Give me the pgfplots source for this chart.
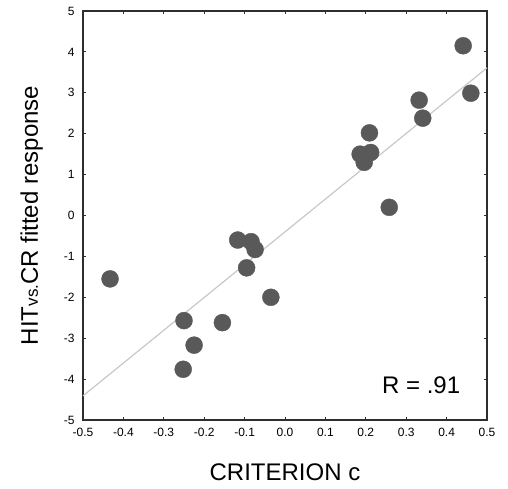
\documentclass[border=0pt]{standalone}
\usepackage{fontspec}
\setmainfont{Liberation Sans}
\usepackage{pgfplots}
\pgfplotsset{compat=1.18}

\definecolor{dotgray}{HTML}{595959}
\definecolor{fitgray}{HTML}{C8C8C8}
\definecolor{framegray}{HTML}{2E2E2E}

\begin{document}
\begin{tikzpicture}
  \useasboundingbox (-83bp,-69bp) rectangle (425bp,420bp);
  \begin{axis}[
      scale only axis, width=404bp, height=409bp,
      xmin=-0.5, xmax=0.5, ymin=-5, ymax=5,
      xtick={-0.5,-0.4,...,0.5}, ytick={-5,-4,...,5},
      tick align=inside, major tick length=3bp,
      tick style={framegray, line width=1bp},
      axis line style={framegray, line width=1.6bp},
      /pgf/number format/assume math mode=true,
      xticklabel style={font=\fontsize{12bp}{12bp}\selectfont, yshift=-5bp,
        /pgf/number format/.cd, fixed, fixed zerofill, precision=1},
      yticklabel style={font=\fontsize{12bp}{12bp}\selectfont, xshift=-5bp},
      xlabel={CRITERION c},
      ylabel={HIT{\fontsize{17bp}{17bp}\selectfont vs.}CR fitted response},
      label style={font=\fontsize{24bp}{24bp}\selectfont},
      xlabel style={yshift=-20bp},
      ylabel style={yshift=14bp},
      clip=false,
    ]
    % least squares fit line
    \addplot[fitgray, line width=1.2bp] coordinates {(-0.5,-4.41) (0.5,3.61)};
    % subjects
    \addplot[only marks, mark=*, mark size=8.5bp, mark options={fill=dotgray, draw=dotgray}]
      coordinates {
        (-0.433,-1.55) (-0.250,-2.57) (-0.225,-3.17) (-0.252,-3.76) (-0.155,-2.62)
        (-0.117,-0.60) (-0.084,-0.64) (-0.074,-0.83) (-0.095,-1.28) (-0.035,-2.00)
        (0.186,1.50) (0.212,1.54) (0.196,1.30) (0.209,2.02) (0.258,0.20)
        (0.332,2.82) (0.341,2.38) (0.441,4.15) (0.460,2.99)
      };
    \node[anchor=base, font=\fontsize{24bp}{24bp}\selectfont, inner sep=0pt]
      at (axis cs:0.337,-4.34) {R = .91};
  \end{axis}
\end{tikzpicture}
\end{document}
